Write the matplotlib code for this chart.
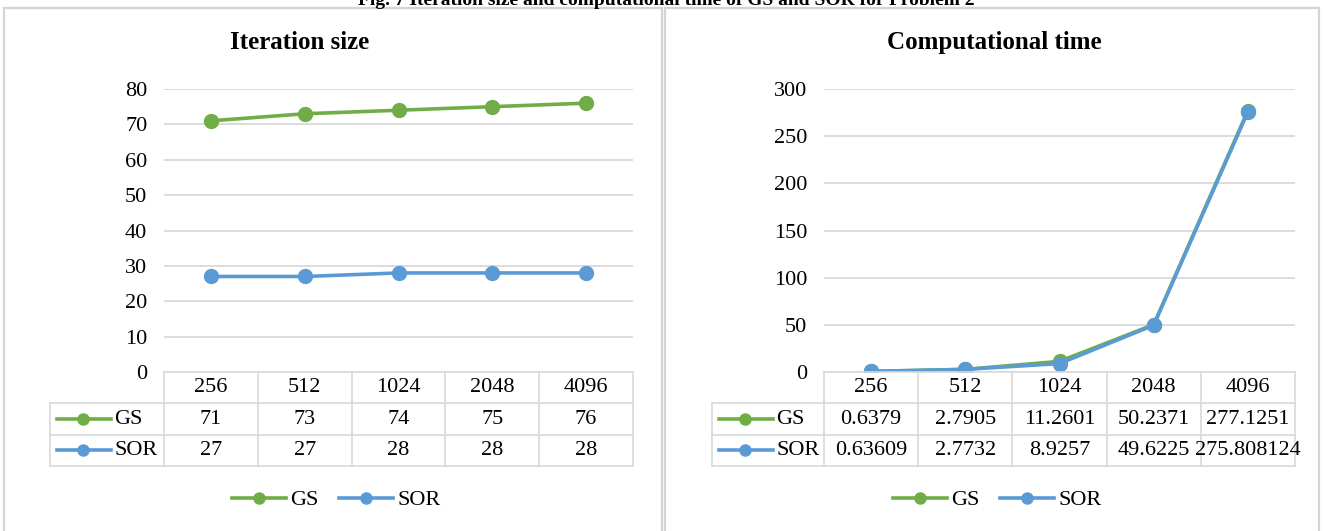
import matplotlib
matplotlib.use("Agg")
import matplotlib.pyplot as plt
from matplotlib.lines import Line2D
from matplotlib.patches import Rectangle

# ---- data -------------------------------------------------------------
sizes = ["256", "512", "1024", "2048", "4096"]
series_names = ["GS", "SOR"]
gs_iter = [71, 73, 74, 75, 76]
sor_iter = [27, 27, 28, 28, 28]
gs_time = [0.6379, 2.7905, 11.2601, 50.2371, 277.1251]
sor_time = [0.63609, 2.7732, 8.9257, 49.6225, 275.808124]
iter_ticks = list(range(0, 81, 10))
time_ticks = list(range(0, 301, 50))

caption = "Fig. 7 Iteration size and computational time of GS and SOR for Problem 2"
titles = ["Iteration size", "Computational time"]

# ---- style ------------------------------------------------------------
W, H = 1323, 531
GREEN = "#70AD47"
BLUE = "#5B9BD5"
GRID = "#D9D9D9"
BORDER = "#D4D4D4"
FS = 16

plt.rcParams["font.family"] = ["Liberation Serif", "DejaVu Serif"]
plt.rcParams["text.color"] = "black"

fig = plt.figure(figsize=(W / 100, H / 100), dpi=100)


def box(x0, y0, x1, y1):
    """Pixel box (origin top-left) -> figure-fraction rect."""
    return [x0 / W, 1 - y1 / H, (x1 - x0) / W, (y1 - y0) / H]


def fx(x):
    return x / W


def fy(y):
    return 1 - y / H


def panel(px0, px1, plot_x0, plot_x1, label_x0, title, title_cx, legend_cx,
          ticks, gs, sor):
    # chart frame
    fig.add_artist(Rectangle((fx(px0), -0.1), fx(px1) - fx(px0), fy(8) + 0.1,
                             transform=fig.transFigure, fill=False,
                             ec=BORDER, lw=1.6))
    fig.text(fx(title_cx), fy(49), title, ha="center", va="baseline",
             fontsize=18, fontweight="bold")

    # plot area
    ax = fig.add_axes(box(plot_x0, 89, plot_x1, 372))
    x = list(range(len(sizes)))
    ax.plot(x, gs, color=GREEN, lw=2.6, marker="o", ms=10,
            solid_capstyle="round", zorder=3)
    ax.plot(x, sor, color=BLUE, lw=2.6, marker="o", ms=10,
            solid_capstyle="round", zorder=4)
    ax.set_xlim(-0.5, len(sizes) - 0.5)
    ax.set_ylim(ticks[0], ticks[-1])
    ax.set_yticks(ticks)
    ax.set_xticks([])
    ax.tick_params(axis="y", length=0, pad=12, labelsize=FS)
    ax.grid(axis="y", color=GRID, lw=1.3)
    ax.set_axisbelow(True)
    for s in ax.spines.values():
        s.set_visible(False)

    # data table underneath the plot
    col_w = (plot_x1 - plot_x0) / len(sizes)
    u = 1.0 / col_w
    xmin = -0.5 - (plot_x0 - label_x0) * u
    xmax = len(sizes) - 0.5
    tb = fig.add_axes(box(label_x0, 372, plot_x1, 466))
    tb.set_xlim(xmin, xmax)
    tb.set_ylim(3, 0)
    tb.axis("off")
    lk = dict(color=GRID, lw=1.2, clip_on=False, solid_capstyle="projecting")
    tb.plot([-0.5, xmax], [0, 0], **lk)
    for r in (1, 2, 3):
        tb.plot([xmin, xmax], [r, r], **lk)
    for i in range(len(sizes) + 1):
        tb.plot([-0.5 + i, -0.5 + i], [0, 3], **lk)
    tb.plot([xmin, xmin], [1, 3], **lk)

    for i, lab in enumerate(sizes):
        tb.text(i, 0.5, lab, ha="center", va="center", fontsize=FS)
    for row, (name, vals, col) in enumerate(zip(series_names, (gs, sor),
                                                (GREEN, BLUE)), start=1):
        yc = row + 0.5
        tb.plot([xmin + 6.7 * u, xmin + 61 * u], [yc, yc], color=col, lw=2.6,
                clip_on=False)
        tb.plot([xmin + 33 * u], [yc], "o", color=col, ms=8, clip_on=False)
        tb.text(xmin + 64 * u, yc, name, ha="left", va="center", fontsize=FS)
        for i, v in enumerate(vals):
            tb.text(i, yc, str(v), ha="center", va="center", fontsize=FS)

    # legend
    handles = [Line2D([], [], color=GREEN, lw=2.6, marker="o", ms=8),
               Line2D([], [], color=BLUE, lw=2.6, marker="o", ms=8)]
    fig.legend(handles, series_names, loc="center",
               bbox_to_anchor=(fx(legend_cx), fy(500)), ncol=2, frameon=False,
               fontsize=FS, handlelength=2.45, handletextpad=0.18,
               columnspacing=0.9, borderpad=0, borderaxespad=0)


panel(4, 662, 164, 633, 50, titles[0], 300, 336, iter_ticks,
      gs_iter, sor_iter)
panel(665, 1319, 824, 1295, 712, titles[1], 994, 997, time_ticks,
      gs_time, sor_time)

# figure caption sits at the very top edge, partly outside the canvas
fig.text(fx(666), fy(5), caption, ha="center", va="baseline",
         fontsize=14, fontweight="bold")

fig.savefig("out.png", dpi=100)
